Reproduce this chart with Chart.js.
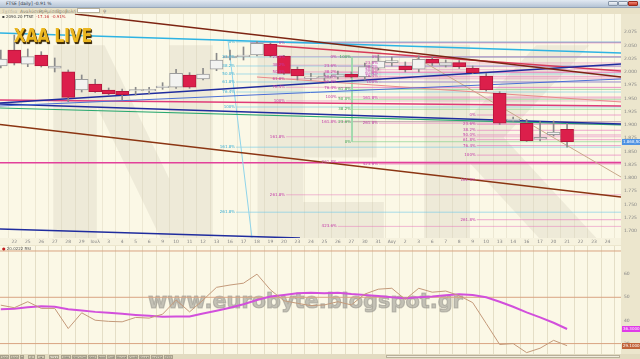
<!DOCTYPE html>
<html lang="el">
<head>
<meta charset="utf-8">
<title>FTSE daily</title>
<script src="https://cdn.jsdelivr.net/npm/chart.js@4.4.1/dist/chart.umd.min.js"></script>
<style>
  html, body { margin: 0; padding: 0; }
  body { width: 640px; height: 359px; overflow: hidden; position: relative; background: #e9e2c8; font-family: "DejaVu Sans", Arial, sans-serif; }
  .abs { position: absolute; white-space: nowrap; }
  #titlebar { left: 0; top: 0; width: 640px; height: 7px; background: linear-gradient(#e2e9f2, #b5c4d5); border-bottom: 1px solid #98a8ba; }
  #titlebar span { position: absolute; left: 6px; top: 1px; font-size: 4.5px; color: #2e3846; }
  .winbtn { position: absolute; top: 1px; width: 10px; height: 5px; border: 1px solid #8796a8; border-radius: 1px; background: linear-gradient(#f4f6fa, #c2cedb); box-sizing: border-box; }
  #menubar { left: 0; top: 8px; width: 640px; height: 6px; background: #e8e1c6; }
  #menubar span.m { position: absolute; top: 0.5px; font-size: 4.5px; color: #8a8470; }
  #search { left: 77px; top: 8px; width: 23px; height: 5px; background: #fff; border: 1px solid #b8b09a; box-sizing: border-box; }
  .ico { position: absolute; top: 9px; width: 4px; height: 4px; background: #d6cfb6; border: 1px solid #aaa28c; box-sizing: border-box; }
  #main { left: 0; top: 14px; }
  #rsi { left: 0; top: 245px; }
  #info { left: 2px; top: 13.5px; font-size: 4px; color: #3a3a3a; }
  #info b { color: #c02a2a; font-weight: normal; }
  #logo { left: 14px; top: 23px; font-size: 20px; line-height: normal; font-weight: bold; color: #ebb61f; transform: scaleX(0.76); transform-origin: left top; text-shadow: 1px 1px 0 #4a3206, 1.5px 1.5px 1px #2a1c02, -0.5px -0.5px 0 #fff0a8; }
  #rsiinfo { left: 2px; top: 245.5px; font-size: 4px; color: #555; }
  #rsiinfo i { color: #c02020; font-style: normal; }
  #bottombar { left: 0; top: 354px; width: 640px; height: 5px; background: #e2dbc1; }
  .tab { position: absolute; top: 0.5px; height: 4px; background: #d2cbb4; border: 0.5px solid #a8a18c; font-size: 3.2px; line-height: 4px; color: #555; text-align: center; box-sizing: border-box; overflow: hidden; }
  #scroll { position: absolute; left: 386px; top: 1px; width: 234px; height: 3px; background: #f2eedf; border: 0.5px solid #b8b09a; box-sizing: border-box; }
</style>
</head>
<body>
<div id="titlebar" class="abs"><span>FTSE [daily] -0.91 %</span>
  <div class="winbtn" style="left:608px"></div>
  <div class="winbtn" style="left:618px"></div>
  <div class="winbtn" style="left:628px;background:linear-gradient(#f08a7a,#c83a28);border-color:#9a2a1c"></div>
</div>
<div id="menubar" class="abs">
  <span class="m" style="left:2px;color:#b8b29c">Σχέδια</span>
  <span class="m" style="left:20px">Αναλύσεις</span>
  <span class="m" style="left:39px">Ρυθμίσεις</span>
  <span class="m" style="left:56px">Προβολή</span>
  <span class="m" style="left:103px;color:#666">&#9906;</span>
  <div class="ico" style="left:598px"></div><div class="ico" style="left:604px"></div>
  <div class="ico" style="left:610px"></div><div class="ico" style="left:616px"></div>
  <div class="ico" style="left:622px"></div><div class="ico" style="left:628px"></div>
  <div class="ico" style="left:634px"></div>
</div>
<div id="search" class="abs"></div>

<canvas id="main" class="abs" width="640" height="231"></canvas>
<canvas id="rsi" class="abs" width="640" height="109"></canvas>

<div id="info" class="abs">&#9642; 2090.20 FTSE &nbsp;<b>-17.16 &nbsp;-0.91%</b></div>
<div id="logo" class="abs">XAA LIVE</div>
<div id="rsiinfo" class="abs"><i>&#9679;</i> 20.0222 RSI</div>

<div id="bottombar" class="abs">
  <div class="tab" style="left:0px;width:9px">200</div>
  <div class="tab" style="left:10px;width:9px">500</div>
  <div class="tab" style="left:20px;width:4px">H</div>
  <div class="tab" style="left:28px;width:7px">Ε</div>
  <div class="tab" style="left:37px;width:8px">Μ</div>
  <div class="tab" style="left:49px;width:10px;background:#ece6d0">FTSE</div>
  <div class="tab" style="left:61px;width:10px">ΠΡΒ</div>
  <div class="tab" style="left:72px;width:15px">ΕΡΓΑΣΗΜ</div>
  <div class="tab" style="left:88px;width:9px">ΕΘΕΑ</div>
  <div class="tab" style="left:98px;width:8px">ΜΟΗ</div>
  <div class="tab" style="left:107px;width:8px">ΣΑΡ</div>
  <div class="tab" style="left:116px;width:11px">ΒΙΟΧΚ</div>
  <div class="tab" style="left:128px;width:10px">ΠΑΙΡ</div>
  <div class="tab" style="left:139px;width:11px">ΕΛΛΑΚ</div>
  <div class="tab" style="left:151px;width:12px">ΧΑΤΖΚ</div>
  <div class="tab" style="left:164px;width:9px">ΕΤΕ</div>
  <div id="scroll"></div>
</div>

<script>
// FTSE daily, 21 Jun - 21 Aug, then 3 empty days to the right edge
const tickLabels = ['', '22', '25', '26', '27', '28', '29', 'Ιουλ', '3', '4', '5', '6', '9', '10', '11', '12', '13',
  '16', '17', '18', '19', '20', '23', '24', '25', '26', '27', '30', '31', 'Αυγ', '2', '3', '6', '7', '8', '9', '10',
  '13', '14', '16', '17', '20', '21', '22', '23', '24'];

const ohlcOpen  = [2011.4, 2041.6, 2014.6, 2032.2, 2007.1, 2000.6, 1966.1, 1977.4, 1966.1, 1963.7, 1964.2, 1964.4, 1970.6,
  1971.2, 1994.4, 1986.9, 2005.2, 2026.5, 2029.0, 2032.2, 2052.9, 2030.3, 2005.2, 1988.0, 1988.2, 1990.6, 1995.7,
  1991.2, 2007.1, 2017.6, 2011.4, 2005.2, 2024.0, 2012.7, 2017.6, 2007.6, 1992.5, 1959.9, 1908.2, 1903.3, 1873.1,
  1881.8, 1891.9];
const ohlcHigh  = [2041.6, 2069.9, 2043.5, 2038.4, 2026.5, 2003.9, 1994.4, 1986.3, 1969.9, 1968.0, 1971.2, 1971.2, 1979.9,
  2005.2, 1998.8, 2007.1, 2035.4, 2041.6, 2047.3, 2057.3, 2054.8, 2031.5, 2009.5, 1997.6, 1998.2, 2002.0, 2000.1,
  2017.1, 2032.2, 2028.4, 2019.0, 2030.3, 2028.4, 2022.7, 2021.8, 2011.4, 1997.6, 1962.9, 1915.2, 1910.8, 1906.3,
  1907.6, 1903.3];
const ohlcLow   = [2007.6, 2013.3, 2010.1, 2009.5, 2000.1, 1944.0, 1962.3, 1961.4, 1956.7, 1947.2, 1956.7, 1958.6, 1967.4,
  1969.3, 1969.3, 1985.0, 2002.5, 2022.7, 2022.7, 2030.3, 2028.4, 1995.4, 1985.0, 1985.0, 1984.0, 1986.9, 1988.8,
  1985.0, 2003.9, 2011.4, 2000.1, 2000.1, 2012.3, 2009.5, 2006.7, 1997.2, 1964.2, 1901.0, 1906.7, 1868.9, 1869.9,
  1879.3, 1858.0];
const ohlcClose = [2024.6, 2016.5, 2029.0, 2011.4, 2011.4, 1952.3, 1986.3, 1962.9, 1958.6, 1957.2, 1966.1, 1965.6, 1971.8,
  1997.6, 1971.2, 1996.3, 2022.7, 2030.3, 2032.2, 2054.2, 2030.3, 1997.6, 1992.5, 1988.6, 1992.5, 1995.4, 1990.1,
  2010.1, 2020.5, 2021.4, 2003.9, 2024.0, 2016.5, 2017.6, 2010.1, 1998.8, 1966.1, 1903.3, 1910.8, 1870.4, 1876.8,
  1886.8, 1868.5];

const priceTicks = [1700, 1725, 1750, 1775, 1800, 1825, 1850, 1875, 1900, 1925, 1950, 1975, 2000, 2025, 2050, 2075];

// RSI and its moving average
const rsiValues = [46.6, 45.5, 48.1, 45.2, 45.2, 36.5, 43.3, 40.1, 39.6, 39.4, 41.3, 41.0, 42.7, 48.8, 43.7, 48.8,
  54.3, 55.3, 56.1, 60.0, 53.2, 48.5, 47.4, 46.4, 46.7, 48.1, 46.7, 51.4, 53.5, 53.9, 49.1, 53.9, 52.2, 52.7, 50.7,
  47.7, 38.7, 29.6, 30.0, 26.1, 28.0, 31.4, 29.1];
const rsiAverage = [44.8, 45.0, 45.7, 46.1, 45.9, 44.8, 44.3, 43.7, 43.3, 42.9, 42.4, 42.0, 41.6, 41.7, 41.7, 43.0,
  44.2, 45.5, 47.0, 48.8, 50.3, 51.0, 51.7, 52.0, 51.7, 52.0, 51.4, 51.0, 50.6, 50.0, 49.6, 50.0, 50.3, 50.9, 51.3,
  51.0, 50.0, 48.1, 45.9, 43.5, 41.3, 39.0, 36.3];
const rsiLevels = [30, 50, 70];
const rsiTicks = [30, 40, 50, 60];

// drawn trend lines: start (day index, price) -> end (day index, price)
const trendX0 = [5.50, -0.06, -0.06, -0.06, -0.06, -0.06, -0.06, 19.0, 19.6, 30.73, -0.06, -0.06, 16.85, 26.05, 18.49, -0.06];
const trendY0 = [2109.5, 2073.7, 1941.6, 1935.9, 1939.7, 1932.1, 1947.2, 1990.6, 2051.0, 2028.4, 1900.8, 1703.8, 2060.5, 2028.4, 2056.1, 1828.9];
const trendX1 = [46, 46, 46, 46, 46, 46, 46, 46, 46, 46, 46, 22.19, 18.63, 26.05, 46, 46];
const trendY1 = [1990.6, 2035.9, 2015.2, 1986.9, 1901.9, 1900.1, 1935.9, 1943.5, 2002.0, 1801.9, 1764.2, 1686.8, 1686.8, 1868.5, 2056.1, 1828.9];

// fibonacci retracement sets (prices per level, null = not drawn)
const fibNames = ['0%', '23.6%', '38.2%', '50.0%', '61.8%', '76.4%', '100%', '161.8%', '261.8%', '423.6%'];
const fibStart = [17.45, 21.16, 25.0, 28.05, 26.05, 35.3];
const fibCyan  = [2056.7, 2028.4, 2011.4, 1996.3, 1981.2, 1962.3, 1934.0, 1858.2, 1735.5, null];
const fibPinkA = [2054.8, 2029.0, 2012.9, 2000.1, 1987.2, 1971.2, 1945.4, 1877.8, 1768.3, null];
const fibPinkB = [2028.4, 2010.6, 1999.5, 1990.6, 1981.8, 1970.6, 1952.9, 1906.3, 1830.8, 1708.7];
const fibPinkD = [2028.4, 2017.1, 2010.1, 2004.4, 1998.9, 1992.0, 1980.6, 1951.0, 1903.3, 1826.1];
const fibGreen = [1868.5, 1906.3, 1929.7, 1948.6, 1967.2, null, 2028.4, null, null, null];
const fibPinkC = [1918.9, 1901.2, 1890.1, 1881.2, 1872.3, 1861.2, 1843.2, 1796.8, 1721.3, null];
const fibSets = [fibCyan, fibPinkA, fibPinkB, fibPinkD, fibGreen, fibPinkC];

// styles
const X_MIN = -0.06, X_MAX = 46;
const trendColors = ['#7d2412', '#2db3e3', '#1f2c9e', '#4a6fd6', '#1f2c9e', '#2aa870', '#e03a78', '#e98a8a',
  '#d73a58', '#c8a88a', '#8b3512', '#1f2c9e', '#8fd4ea', '#98d8a8', '#a796c2', '#e2409a'];
const trendWidths = [1.5, 1.5, 1.5, 1, 1.5, 1.2, 1.5, 1, 1.5, 1, 1.5, 1.5, 1, 1, 1, 1.5];
const fibLineColors = ['rgba(110,200,232,0.6)', 'rgba(232,120,190,0.5)', 'rgba(232,120,190,0.5)',
  'rgba(232,120,190,0.5)', 'rgba(120,205,130,0.6)', 'rgba(228,110,186,0.6)'];
const fibTextColors = ['#34aed6', '#c43aa8', '#c43aa8', '#c43aa8', '#3da653', '#c43aa8'];

Chart.defaults.font.family = '"DejaVu Sans", sans-serif';

function grNum(v) {
  const s = v.toFixed(2).split('.');
  return s[0].replace(/\B(?=(\d{3})+(?!\d))/g, '.') + ',' + s[1];
}

function dayGrid(chart, color) {
  const {ctx, chartArea: a, scales: {x}} = chart;
  ctx.save();
  ctx.strokeStyle = color;
  ctx.lineWidth = 1;
  for (let i = 0; i <= tickLabels.length; i++) {
    const px = Math.round(x.getPixelForValue(i - 0.5)) + 0.5;
    if (px < a.left || px > a.right) continue;
    ctx.beginPath();
    ctx.moveTo(px, a.top);
    ctx.lineTo(px, a.bottom);
    ctx.stroke();
  }
  ctx.restore();
}

function fixAxis(w, h) {
  return function (s) {
    if (w !== null) s.width = w;
    if (h !== null) s.height = h;
    s.paddingTop = 0; s.paddingBottom = 0; s.paddingLeft = 0; s.paddingRight = 0;
  };
}

// ---- main price chart ----
const days = ohlcOpen.map((_, i) => i);
const isUp = days.map(i => ohlcClose[i] >= ohlcOpen[i]);

const mainDatasets = [];
mainDatasets.push({
  type: 'bar', data: days.map(i => ({x: i, y: [ohlcOpen[i], ohlcClose[i]]})),
  backgroundColor: isUp.map(u => u ? '#f3f3f1' : '#dc1f4b'),
  borderColor: isUp.map(u => u ? '#9c9c9c' : '#b5173c'),
  borderWidth: 1, borderSkipped: false, barThickness: 13, minBarLength: 1.5, grouped: false, order: 0, clip: 0
});
mainDatasets.push({
  type: 'bar', data: days.map(i => ({x: i, y: [ohlcLow[i], ohlcHigh[i]]})),
  backgroundColor: '#8a8a8a', barThickness: 1, grouped: false, order: 1, clip: 0
});
trendX0.forEach((x0, k) => {
  mainDatasets.push({
    type: 'line', data: [{x: x0, y: trendY0[k]}, {x: trendX1[k], y: trendY1[k]}],
    borderColor: trendColors[k], borderWidth: trendWidths[k], pointRadius: 0, order: 2, clip: 0
  });
});
fibSets.forEach((set, g) => {
  set.forEach(level => {
    if (level === null) return;
    mainDatasets.push({
      type: 'line', data: [{x: fibStart[g], y: level}, {x: X_MAX, y: level}],
      borderColor: fibLineColors[g], borderWidth: 1, pointRadius: 0, order: 3, clip: 0
    });
  });
});

const mainPlugin = {
  id: 'mainDecor',
  beforeDraw(chart) {
    const {ctx, chartArea: a, width, height} = chart;
    ctx.save();
    ctx.fillStyle = '#ece6cd';
    ctx.fillRect(0, 0, width, height);
    ctx.fillStyle = '#f6f2de';
    ctx.fillRect(0, a.bottom, a.right, height - a.bottom);
    ctx.fillStyle = '#fbf8e6';
    ctx.fillRect(a.left, a.top, a.right - a.left, a.bottom - a.top);
    // big background watermark
    ctx.beginPath();
    ctx.rect(a.left, a.top, a.right - a.left, a.bottom - a.top);
    ctx.clip();
    ctx.font = 'bold 267px "DejaVu Sans"';
    const m = ctx.measureText('NEK');
    const ink = m.actualBoundingBoxRight + m.actualBoundingBoxLeft;
    const sx = 550 / ink;
    ctx.translate(50 + m.actualBoundingBoxLeft * sx, 226);
    ctx.scale(sx, 1);
    ctx.fillStyle = 'rgba(120,110,80,0.095)';
    ctx.fillText('NEK', 0, 0);
    ctx.restore();
  },
  beforeDatasetsDraw(chart) {
    dayGrid(chart, 'rgba(200,190,160,0.28)');
  },
  afterDatasetsDraw(chart) {
    const {ctx, scales: {x, y}} = chart;
    ctx.save();
    ctx.font = '4px "DejaVu Sans"';
    ctx.textAlign = 'right';
    ctx.textBaseline = 'middle';
    fibSets.forEach((set, g) => {
      ctx.fillStyle = fibTextColors[g];
      const px = x.getPixelForValue(fibStart[g]) - 1;
      set.forEach((level, l) => {
        if (level === null) return;
        ctx.fillText(fibNames[l], px, y.getPixelForValue(level));
      });
    });
    ctx.restore();
  },
  afterDraw(chart) {
    const {ctx, chartArea: a, scales: {y}} = chart;
    const last = ohlcClose[ohlcClose.length - 1];
    const py = Math.round(y.getPixelForValue(last));
    ctx.save();
    ctx.fillStyle = '#4f93e3';
    ctx.fillRect(a.right + 1, py - 3, 19, 6);
    ctx.fillStyle = '#ffffff';
    ctx.font = '4px "DejaVu Sans"';
    ctx.textBaseline = 'middle';
    ctx.fillText(grNum(last), a.right + 2, py);
    ctx.restore();
  }
};

new Chart(document.getElementById('main'), {
  type: 'bar',
  data: {datasets: mainDatasets},
  options: {
    responsive: false, animation: false, events: [],
    layout: {padding: 0},
    plugins: {legend: {display: false}, tooltip: {enabled: false}},
    scales: {
      x: {
        type: 'linear', min: X_MIN, max: X_MAX, offset: false,
        grid: {display: false, drawTicks: false}, border: {display: false},
        ticks: {autoSkip: false, maxRotation: 0, padding: 1, color: '#858585', font: {size: 4.5},
          callback: v => tickLabels[v] !== undefined ? tickLabels[v] : ''},
        afterBuildTicks: s => { s.ticks = tickLabels.map((_, i) => ({value: i})); },
        afterFit: fixAxis(null, 7)
      },
      y: {
        position: 'right', min: 1686.8, max: 2109.5,
        grid: {display: false, drawTicks: false}, border: {display: false},
        ticks: {padding: 3, color: '#858585', font: {size: 4.5}, callback: v => (v / 1000).toFixed(3)},
        afterBuildTicks: s => { s.ticks = priceTicks.map(v => ({value: v})); },
        afterFit: fixAxis(19, null)
      }
    }
  },
  plugins: [mainPlugin]
});

// ---- RSI panel ----
const rsiDatasets = [];
rsiLevels.forEach(v => {
  rsiDatasets.push({
    data: [{x: X_MIN, y: v}, {x: X_MAX, y: v}],
    borderColor: '#d9a482', borderWidth: 1, pointRadius: 0, order: 3, clip: 0
  });
});
rsiDatasets.push({
  data: rsiAverage.map((v, i) => ({x: i, y: v})),
  borderColor: '#d24fdc', borderWidth: 2, pointRadius: 0, order: 1, clip: 0
});
rsiDatasets.push({
  data: rsiValues.map((v, i) => ({x: i, y: v})),
  borderColor: '#c49a7a', borderWidth: 1, pointRadius: 0, order: 0, clip: 0
});

const rsiPlugin = {
  id: 'rsiDecor',
  beforeDraw(chart) {
    const {ctx, chartArea: a, width, height} = chart;
    ctx.save();
    ctx.fillStyle = '#ece6cd';
    ctx.fillRect(0, 0, width, height);
    ctx.fillStyle = '#fbf8e6';
    ctx.fillRect(a.left, a.top, a.right - a.left, a.bottom - a.top);
    ctx.restore();
  },
  beforeDatasetsDraw(chart) {
    const {ctx} = chart;
    dayGrid(chart, 'rgba(200,190,160,0.45)');
    ctx.save();
    ctx.font = 'bold 22px "DejaVu Sans"';
    const txt = 'www.eurobyte.blogspot.gr';
    const m = ctx.measureText(txt);
    const ink = m.actualBoundingBoxRight + m.actualBoundingBoxLeft;
    const sx = 315 / ink;
    ctx.translate(148 + m.actualBoundingBoxLeft * sx, 63);
    ctx.scale(sx, 1);
    ctx.fillStyle = 'rgba(150,148,140,0.55)';
    ctx.strokeStyle = 'rgba(150,148,140,0.55)';
    ctx.lineWidth = 1.2;
    ctx.lineJoin = 'round';
    ctx.strokeText(txt, 0, 0);
    ctx.fillText(txt, 0, 0);
    ctx.restore();
  },
  afterDraw(chart) {
    const {ctx, chartArea: a, scales: {y}} = chart;
    const tags = [[rsiAverage[rsiAverage.length - 1], '#e03ce8'], [rsiValues[rsiValues.length - 1], '#c2643a']];
    ctx.save();
    ctx.font = '4px "DejaVu Sans"';
    ctx.textBaseline = 'middle';
    tags.forEach(([v, c]) => {
      const py = Math.round(y.getPixelForValue(v));
      ctx.fillStyle = c;
      ctx.fillRect(a.right + 1, py - 3, 19, 6);
      ctx.fillStyle = '#ffffff';
      ctx.fillText(v.toFixed(4), a.right + 2, py);
    });
    ctx.restore();
  }
};

new Chart(document.getElementById('rsi'), {
  type: 'line',
  data: {datasets: rsiDatasets},
  options: {
    responsive: false, animation: false, events: [],
    layout: {padding: {top: 1}},
    plugins: {legend: {display: false}, tooltip: {enabled: false}},
    scales: {
      x: {type: 'linear', min: X_MIN, max: X_MAX, display: false},
      y: {
        position: 'right', min: 25.5, max: 72.16,
        grid: {display: false, drawTicks: false}, border: {display: false},
        ticks: {padding: 3, color: '#858585', font: {size: 4.5}},
        afterBuildTicks: s => { s.ticks = rsiTicks.map(v => ({value: v})); },
        afterFit: fixAxis(19, null)
      }
    }
  },
  plugins: [rsiPlugin]
});
</script>
</body>
</html>
